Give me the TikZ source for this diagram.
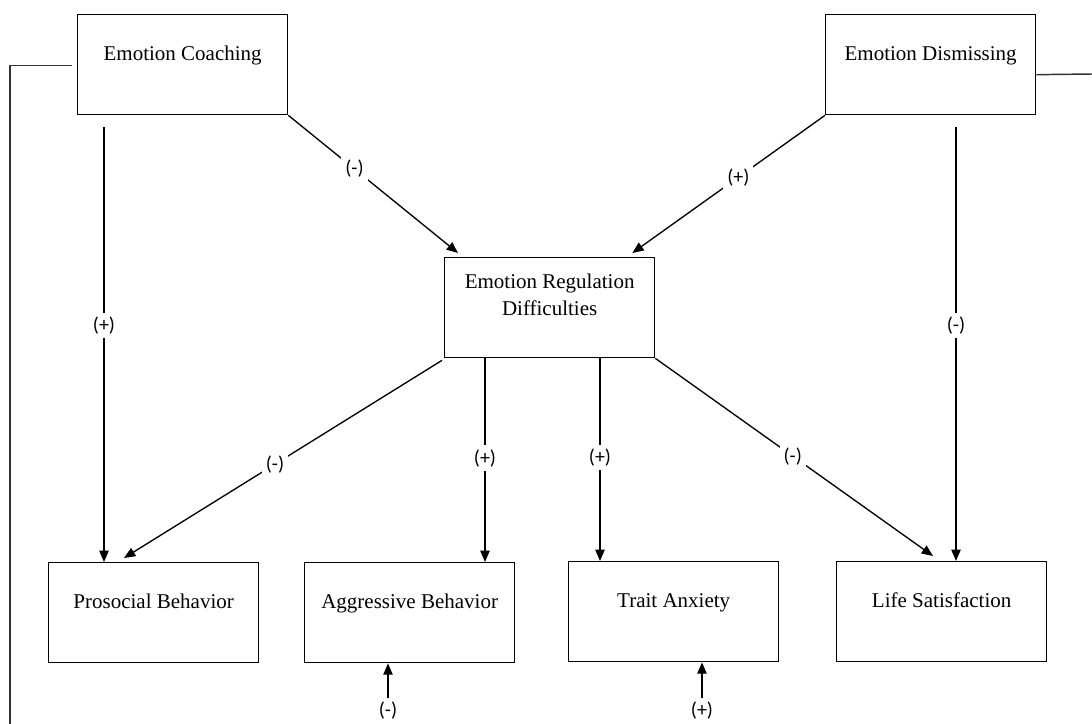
\documentclass[tikz,border=0pt]{standalone}
\usepackage{fontspec}
\setmainfont{Liberation Serif}
\newfontfamily\lblfont{Carlito}
\usetikzlibrary{arrows.meta}
\newcommand\boxtext[2]{\parbox[c][75pt][t]{157.5pt}{\centering\fontsize{15.75}{20.25}\selectfont\rule{0pt}{#1}#2}}
\begin{document}
\begin{tikzpicture}[x=0.75pt,y=-0.75pt,
  box/.style={draw=black, line width=1pt, inner sep=0pt, minimum width=157.5pt, minimum height=75pt, anchor=north west},
  arr/.style={line width=1pt, -{Triangle[length=8.5pt,width=7pt]}},
  lbl/.style={fill=white, inner sep=3pt, text=black, font=\lblfont\fontsize{15}{18}\selectfont},
  loopline/.style={draw=black!80, line width=1.1pt}]
\useasboundingbox (0,0) rectangle (1092,724);

% boxes
\node[box] (coach) at (77,14)  {\boxtext{34.5pt}{Emotion Coaching}};
\node[box] (dism)  at (825,14) {\boxtext{34.5pt}{Emotion Dismissing}};
\node[box] (erd)   at (444,257) {\boxtext{23.25pt}{Emotion Regulation\\Difficulties}};
\node[box] (pro)   at (48,562)  {\boxtext{34.5pt}{Prosocial Behavior}};
\node[box] (agg)   at (304,562) {\boxtext{34.5pt}{Aggressive Behavior}};
\node[box] (trait) at (568,561) {\boxtext{34.5pt}{Trait Anxiety}};
\node[box] (life)  at (836,561) {\boxtext{34.5pt}{Life Satisfaction}};

% connectors from the top boxes
\draw[arr] ([shift={(27,12)}]coach.south west) -- node[lbl,pos=0.456]{(+)} ([shift={(56,0)}]pro.north west);
\draw[arr] (coach.south east) -- node[lbl,pos=0.39]{(-)} ([shift={(14,-4)}]erd.north west);
\draw[arr] (dism.south west) -- node[lbl,pos=0.45]{(+)} ([shift={(-23,-4)}]erd.north east);
\draw[arr] ([shift={(131,12)}]dism.south west) -- node[lbl,pos=0.457]{(-)} ([shift={(120,0)}]life.north west);

% connectors from emotion regulation difficulties
\draw[arr] ([shift={(-2,2)}]erd.south west) -- node[lbl,pos=0.525]{(-)} ([shift={(76,-4)}]pro.north west);
\draw[arr] ([shift={(41,0)}]erd.south west) -- node[lbl,pos=0.49]{(+)} ([shift={(181,0)}]agg.north west);
\draw[arr] ([shift={(156,0)}]erd.south west) -- node[lbl,pos=0.49]{(+)} ([shift={(32,0)}]trait.north west);
\draw[arr] (erd.south east) -- node[lbl,pos=0.495]{(-)} ([shift={(97,-5)}]life.north west);

% bottom arrows
\node[lbl] (sa) at (388,711) {(-)};
\node[lbl] (st) at (702,711) {(+)};
\draw[arr] (sa.north) -- (sa.north |- agg.south);
\draw[arr] (st.north) -- (st.north |- trait.south);

% outer lines
\coordinate (lb) at (10,724);
\coordinate (rb) at (1092,74);
\draw[loopline] ([shift={(-5,1)}]coach.west) -| (lb);
\draw[loopline] ([shift={(0,10)}]dism.east) -- (rb);
\end{tikzpicture}
\end{document}
